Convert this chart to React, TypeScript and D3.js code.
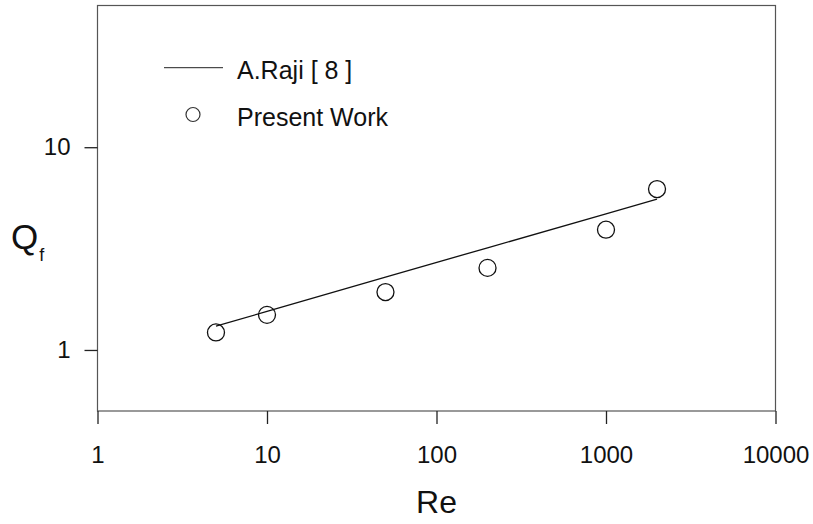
import { useRef, useEffect } from 'react'
import * as d3 from 'd3';

// Present Work (open circles)
const presentRe = [5, 10, 50, 200, 1000, 2000];
const presentQf = [1.22, 1.49, 1.93, 2.54, 3.92, 6.22];

// A.Raji [ 8 ] (solid line)
const rajiRe = [5, 10, 50, 200, 1000, 2000];
const rajiQf = [1.31, 1.55, 2.29, 3.19, 4.69, 5.54];

const xTicks = [1, 10, 100, 1000, 10000];
const yTicks = [1, 10];

function QfChart() {
    const d3Container = useRef(null);

    const width = 813;
    const height = 524;

    useEffect(() => {
        const marginTop = 5.5;
        const marginRight = 37.5;
        const marginBottom = 113;
        const marginLeft = 97.5;
        const font = "Arial, 'Liberation Sans', sans-serif";

        const svg = d3.select(d3Container.current);
        svg.selectAll("*").remove();

        const x = d3.scaleLog()
                    .domain([1, 10000])
                    .range([marginLeft, width - marginRight]);

        const y = d3.scaleLog()
                    .domain([0.5, 50])
                    .range([height - marginBottom, marginTop]);

        // frame
        svg.append("rect")
           .attr("x", marginLeft)
           .attr("y", marginTop)
           .attr("width", width - marginRight - marginLeft)
           .attr("height", height - marginBottom - marginTop)
           .attr("fill", "none")
           .attr("stroke", "#555")
           .attr("stroke-width", 1.2);

        // x axis
        const xAxis = d3.axisBottom(x)
                        .tickValues(xTicks)
                        .tickFormat(d => String(d))
                        .tickSize(13)
                        .tickPadding(22)
                        .tickSizeOuter(0);

        svg.append("g")
           .attr("transform", `translate(0,${height - marginBottom})`)
           .call(xAxis)
           .call((g) => g.select(".domain").remove())
           .call((g) => g.selectAll("line").attr("stroke", "#222").attr("stroke-width", 1.3))
           .call((g) => g.selectAll("text")
                         .attr("font-family", font)
                         .attr("font-size", 24)
                         .attr("fill", "#111"));

        // y axis
        const yAxis = d3.axisLeft(y)
                        .tickValues(yTicks)
                        .tickFormat(d => String(d))
                        .tickSize(13)
                        .tickPadding(14)
                        .tickSizeOuter(0);

        svg.append("g")
           .attr("transform", `translate(${marginLeft},0)`)
           .call(yAxis)
           .call((g) => g.select(".domain").remove())
           .call((g) => g.selectAll("line").attr("stroke", "#222").attr("stroke-width", 1.3))
           .call((g) => g.selectAll("text")
                         .attr("font-family", font)
                         .attr("font-size", 24)
                         .attr("fill", "#111"));

        // axis titles
        svg.append("text")
           .attr("x", (marginLeft + width - marginRight) / 2)
           .attr("y", 513)
           .attr("text-anchor", "middle")
           .attr("font-family", font)
           .attr("font-size", 32)
           .attr("fill", "#111")
           .text("Re");

        const qf = svg.append("text")
                      .attr("x", 11)
                      .attr("y", 249)
                      .attr("font-family", font)
                      .attr("font-size", 35)
                      .attr("fill", "#111");
        qf.append("tspan").text("Q");
        qf.append("tspan")
          .attr("font-size", 18)
          .attr("dy", 12)
          .attr("dx", 1)
          .text("f");

        // A.Raji line
        const rajiData = rajiRe.map((re, i) => ({ re, q: rajiQf[i] }));
        const line = d3.line<{ re: number; q: number }>()
                       .x(d => x(d.re))
                       .y(d => y(d.q));

        svg.append("path")
           .datum(rajiData)
           .attr("fill", "none")
           .attr("stroke", "#111")
           .attr("stroke-width", 1.3)
           .attr("d", line);

        // Present Work circles
        const presentData = presentRe.map((re, i) => ({ re, q: presentQf[i] }));
        svg.append("g")
           .selectAll()
           .data(presentData)
           .join("circle")
           .attr("cx", d => x(d.re))
           .attr("cy", d => y(d.q))
           .attr("r", 8.5)
           .attr("fill", "none")
           .attr("stroke", "#111")
           .attr("stroke-width", 1.3);

        // legend
        const legend = svg.append("g");
        legend.append("line")
              .attr("x1", 164)
              .attr("x2", 223)
              .attr("y1", 67.7)
              .attr("y2", 67.7)
              .attr("stroke", "#222")
              .attr("stroke-width", 1);
        legend.append("text")
              .attr("x", 237)
              .attr("y", 78.5)
              .attr("font-family", font)
              .attr("font-size", 25)
              .attr("fill", "#111")
              .text("A.Raji [ 8 ]");
        legend.append("circle")
              .attr("cx", 193)
              .attr("cy", 114.5)
              .attr("r", 7)
              .attr("fill", "none")
              .attr("stroke", "#333")
              .attr("stroke-width", 1.2);
        legend.append("text")
              .attr("x", 237)
              .attr("y", 126)
              .attr("font-family", font)
              .attr("font-size", 25)
              .attr("fill", "#111")
              .text("Present Work");
    });

    return (
        <svg width={width}
             height={height}
             ref={d3Container}
             style={{ position: "absolute", left: 0, top: 0, background: "#fff" }} />
    )
}

export default function App() {
    return <QfChart />;
}
